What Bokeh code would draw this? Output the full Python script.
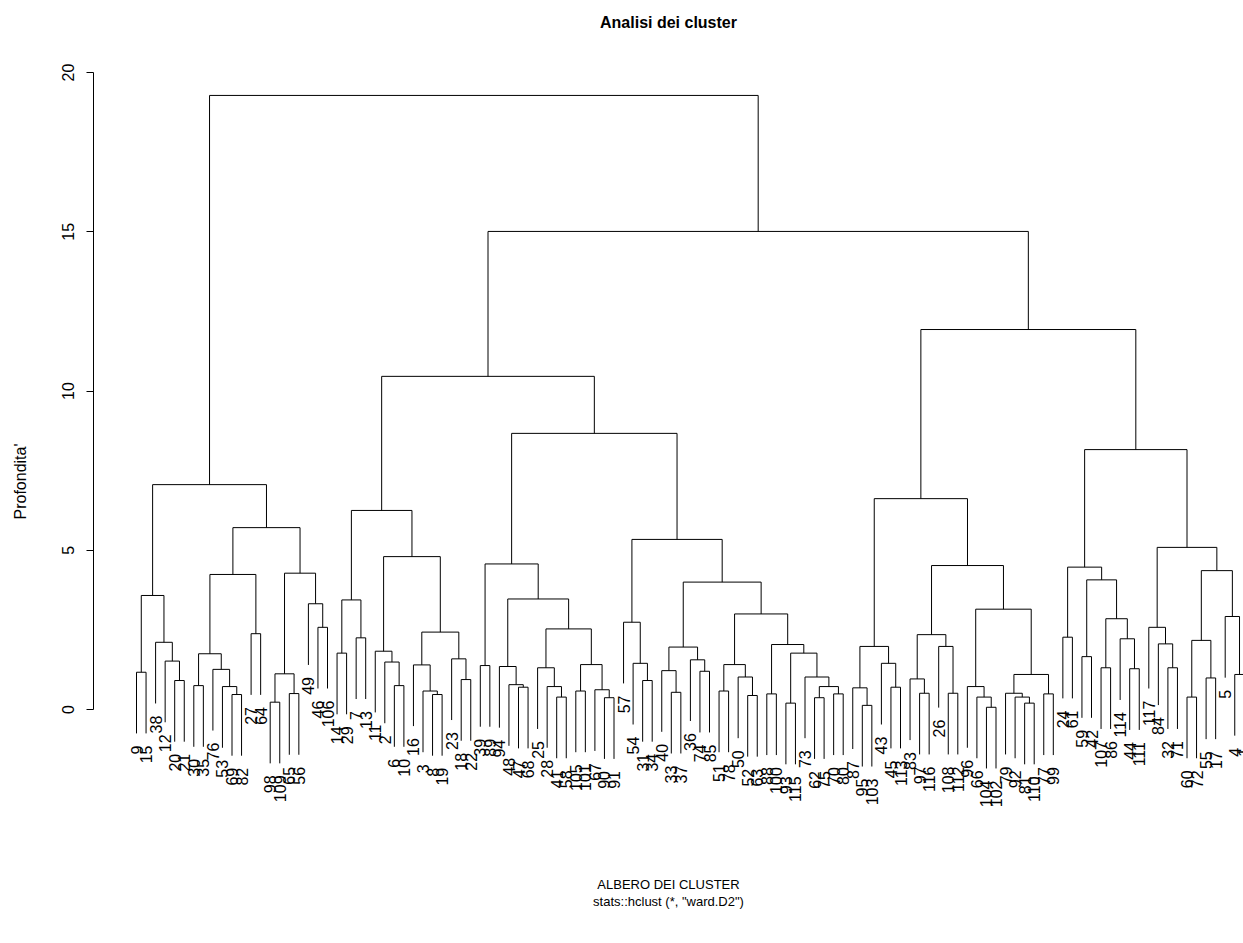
import math
from bokeh.plotting import figure
from bokeh.models import Range1d, FixedTicker, Label, ColumnDataSource
from bokeh.core.properties import value
from bokeh.embed import file_html
from bokeh.resources import INLINE

# Leaf labels in display order (positions 1..117)
leaf_labels = [9, 15, 38, 12, 20, 21, 30, 35, 76, 53, 69, 82, 27, 64, 98, 109, 65, 56, 49, 46,
               106, 14, 29, 7, 13, 11, 2, 6, 10, 16, 3, 8, 19, 23, 18, 22, 39, 89, 94, 48,
               47, 68, 25, 28, 41, 58, 105, 101, 67, 90, 91, 57, 54, 31, 34, 40, 33, 37, 36, 74,
               85, 51, 78, 50, 52, 63, 88, 100, 93, 115, 73, 62, 75, 70, 80, 87, 95, 103, 43, 45,
               113, 83, 97, 116, 26, 108, 112, 96, 66, 104, 102, 79, 92, 81, 110, 77, 99, 24, 61, 59,
               42, 107, 86, 114, 44, 111, 117, 84, 32, 71, 60, 72, 55, 17, 5, 4, 1]

# hclust-style merge table: negative = leaf position, positive = earlier merge row (1-based)
merge_left = [-1, -5, -4, -3, 1, -7, -11, -10, -9, 6, -13, 10, -15, -17, 13, -20, -19, 15, 12, 5,
              -22, -24, 21, -28, -27, -26, -32, -31, -30, -35, -34, 29, 26, 23,
              -37, -41, -40, -39, -45, -44, -43, -47, -50, -49, 42, 41, 38, 35,
              -54, -53, -52, -57, -56, -60, -59, 53, -62, -65, -64, 57, -67, -69, -72, -74, 63, -71, 62, 61, 60, 56, 51, 48, 34,
              -77, -76, -80, -79, 75, -83, -82, -86, -85, 80, -90, -89, -88, -94, -93, -92, -96, 89, 86, 83, 78,
              -98, -100, -102, -105, -104, 97, 96, 95, -109, -108, -107, -111, -113, 106, -116, -115, 108, 105, 102,
              94, 73, 20]
merge_right = [-2, -6, 2, 3, 4, -8, -12, 7, 8, 9, -14, 11, -16, -18, 14, -21, 16, 17, 18, 19,
               -23, -25, 22, -29, 24, 25, -33, 27, 28, -36, 30, 31, 32, 33,
               -38, -42, 36, 37, -46, 39, 40, -48, -51, 43, 44, 45, 46, 47,
               -55, 49, 50, -58, 52, -61, 54, 55, -63, -66, 58, 59, -68, -70, -73, -75, 64, 65, 66, 67, 68, 69, 70, 71, 72,
               -78, 74, -81, 76, 77, -84, 79, -87, 81, 82, -91, 84, 85, -95, 87, 88, -97, 90, 91, 92, 93,
               -99, -101, -103, -106, 98, 99, 100, 101, -110, 103, 104, -112, -114, 107, -117, 109, 110, 111, 112,
               113, 114, 115]
merge_height = [1.17, 0.91, 1.52, 2.11, 3.58, 0.75, 0.47, 0.72, 1.26, 1.75, 2.38, 4.24, 0.23, 0.50, 1.12, 2.58, 3.32, 4.28, 5.71, 7.06,
                1.77, 2.25, 3.44, 0.75, 1.49, 1.83, 0.47, 0.58, 1.40, 0.94, 1.59, 2.43, 4.80, 6.25,
                1.38, 0.70, 0.78, 1.35, 0.39, 0.72, 1.31, 0.58, 0.37, 0.62, 1.41, 2.53, 3.47, 4.57,
                0.91, 1.45, 2.74, 0.54, 1.22, 1.20, 1.56, 1.96, 0.58, 0.44, 1.02, 1.41, 0.49, 0.20, 0.37, 0.49, 0.72, 1.02, 1.77, 2.04, 3.00, 4.00, 5.34, 8.67, 10.46,
                0.13, 0.68, 0.70, 1.45, 1.98, 0.51, 0.96, 0.51, 1.98, 2.35, 0.07, 0.39, 0.72, 0.20, 0.39, 0.51, 0.49, 1.10, 3.15, 4.52, 6.62,
                2.27, 1.66, 1.31, 1.28, 2.22, 2.85, 4.07, 4.47, 1.31, 2.06, 2.58, 0.39, 0.99, 2.17, 1.10, 2.92, 4.36, 5.09, 8.16,
                11.93, 15.01, 19.28]

y_ticks = [0, 5, 10, 15, 20]

n_leaves = len(leaf_labels)
hang = 0.1 * (max(merge_height) - min(merge_height))

x0, y0, x1, y1 = [], [], [], []
node_x = []
leaf_bottom = [0.0] * n_leaves
for k, h in enumerate(merge_height):
    cx = []
    for ref in (merge_left[k], merge_right[k]):
        if ref < 0:
            x = float(-ref)
            y = h - hang
            leaf_bottom[-ref - 1] = y
        else:
            x = node_x[ref - 1]
            y = merge_height[ref - 1]
        x0.append(x); y0.append(y); x1.append(x); y1.append(h)
        cx.append(x)
    x0.append(cx[0]); y0.append(h); x1.append(cx[1]); y1.append(h)
    node_x.append((cx[0] + cx[1]) / 2.0)

FONT = "Liberation Sans"
W, H = 1243, 943
TOP, BOT = 32, 930
PX_X, PX_Y = 9.55, 31.85
x_start = 1 - 43 / PX_X
x_end = x_start + (W - 93) / PX_X
p = figure(width=W, height=H, output_backend="svg", toolbar_location=None,
           x_axis_location=None,
           x_range=Range1d(x_start, x_end),
           y_range=Range1d((709 - BOT) / PX_Y, (709 - TOP) / PX_Y),
           min_border_left=93, min_border_right=0, min_border_top=TOP, min_border_bottom=H - BOT)
p.outline_line_color = None
p.xgrid.grid_line_color = None
p.ygrid.grid_line_color = None
p.background_fill_color = "white"
p.border_fill_color = "white"

p.segment(x0=x0, y0=y0, x1=x1, y1=y1, line_color="#000000", line_width=1)

src = ColumnDataSource(dict(x=[float(i + 1) for i in range(n_leaves)],
                            y=[b - 0.38 for b in leaf_bottom],
                            t=[str(v) for v in leaf_labels]))
p.text(x="x", y="y", text="t", source=src, angle=math.pi / 2,
       text_align="right", text_baseline="middle",
       text_font=value(FONT), text_font_size="16px", text_color="#000000")

ax = p.yaxis[0]
ax.ticker = FixedTicker(ticks=y_ticks)
ax.bounds = (0, 20)
ax.major_label_orientation = "parallel"
ax.major_label_text_font = FONT
ax.major_label_text_font_size = "16px"
ax.major_label_text_color = "#000000"
ax.major_label_standoff = 13
ax.major_tick_out = 7
ax.major_tick_in = 0
ax.minor_tick_line_color = None
ax.axis_line_color = "#000000"
ax.major_tick_line_color = "#000000"
ax.axis_label = "Profondita'"
ax.axis_label_text_font = FONT
ax.axis_label_text_font_size = "16px"
ax.axis_label_text_font_style = "normal"
ax.axis_label_text_color = "#000000"
ax.axis_label_standoff = 30

p.title.text = "Analisi dei cluster"
p.title.align = "center"
p.title.text_font = FONT
p.title.text_font_size = "16px"
p.title.text_font_style = "bold"
p.title.text_color = "#000000"
p.title.standoff = 4

x_mid = (x_start + x_end) / 2
p.add_layout(Label(x=x_mid, y=(709 - 884) / PX_Y, text="ALBERO DEI CLUSTER",
                   text_align="center", text_baseline="middle", text_font=FONT,
                   text_font_size="13px", text_color="#000000"))
p.add_layout(Label(x=x_mid, y=(709 - 901) / PX_Y, text='stats::hclust (*, "ward.D2")',
                   text_align="center", text_baseline="middle", text_font=FONT,
                   text_font_size="13px", text_color="#000000"))

open("out.html", "w").write(file_html(p, INLINE))
